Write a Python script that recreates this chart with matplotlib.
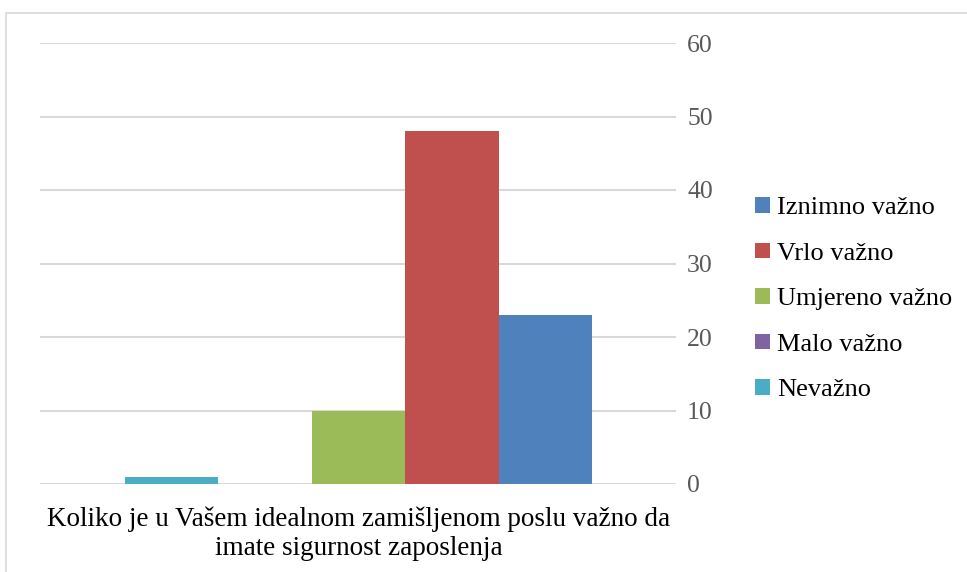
import matplotlib.pyplot as plt
from matplotlib.patches import Rectangle, Patch

# podaci
kategorije = ['Iznimno važno', 'Vrlo važno', 'Umjereno važno', 'Malo važno', 'Nevažno']
vrijednosti = [23, 48, 10, 0, 1]
boje = ['#4F81BD', '#C0504D', '#9BBB59', '#8064A2', '#4BACC6']
pitanje = 'Koliko je u Vašem idealnom zamišljenom poslu važno da\nimate sigurnost zaposlenja'
y_ticks = [0, 10, 20, 30, 40, 50, 60]

plt.rcParams['font.family'] = ['Liberation Serif', 'DejaVu Serif']

W, H = 967, 572
fig = plt.figure(figsize=(W / 100, H / 100), dpi=100)

# okvir grafikona
fig.patches.append(Rectangle((6 / W, -0.1), 1.2, 1 - 13 / H + 0.1,
                             transform=fig.transFigure, fill=False,
                             edgecolor='#D9D9D9', linewidth=1.2))

ax = fig.add_axes([40 / W, 1 - 484 / H, (676 - 40) / W, (484 - 43) / H])

# stupci obrnutim redoslijedom (Nevažno lijevo)
for i, (k, v, c) in enumerate(zip(kategorije[::-1], vrijednosti[::-1], boje[::-1])):
    ax.bar(i, v, width=1.0, color=c, zorder=3)

ax.set_xlim(-1.41, 5.40)
ax.set_ylim(0, 60)
ax.set_yticks(y_ticks)
ax.yaxis.tick_right()
ax.grid(axis='y', color='#D9D9D9', linewidth=1.5, zorder=0)
ax.tick_params(axis='y', length=0, pad=8, labelsize=18.5, labelcolor='#595959')
ax.set_xticks([2])
ax.set_xticklabels([pitanje], fontsize=19.5, linespacing=1.22)
ax.tick_params(axis='x', length=0, pad=16)
for s in ax.spines.values():
    s.set_visible(False)

handles = [Patch(facecolor=c, edgecolor='none') for c in boje]
fig.legend(handles, kategorije, loc='upper left',
           bbox_to_anchor=(755 / W, 1 - 197 / H), frameon=False,
           fontsize=19, handlelength=0.55, handleheight=0.55,
           handletextpad=0.28, labelspacing=0.88, borderaxespad=0,
           borderpad=0)

fig.savefig('out.png', dpi=100)
